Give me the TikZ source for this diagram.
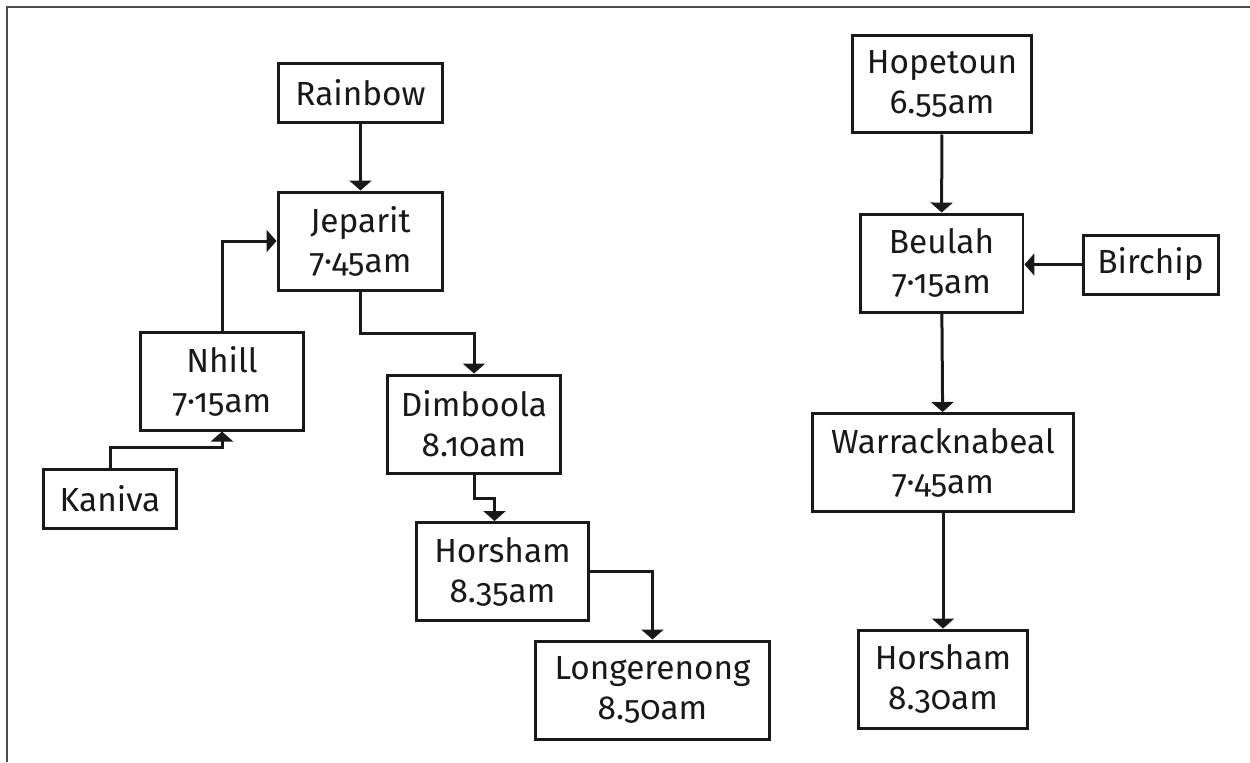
\documentclass[tikz,border=0pt]{standalone}
\usepackage{fontspec}
\setmainfont[Numbers=OldStyle]{Fira Sans}
\usetikzlibrary{arrows.meta}

\begin{document}
\begin{tikzpicture}[x=0.02cm,y=-0.02cm,>={Triangle[width=0.44cm,length=0.2cm]}]
		\tikzstyle{town}=[draw=black!90,line width=0.06cm,align=center,inner sep=0pt,
			font=\fontsize{19}{22.8}\selectfont,text=black!90]
		\tikzstyle{one}=[town,minimum height=1.18cm]
		\tikzstyle{two}=[town,minimum height=1.96cm]
		\tikzstyle{link}=[draw=black!90,line width=0.06cm,->]

		\useasboundingbox (0,0) rectangle (1250,762);
		\draw[black!70,line width=0.04cm] (7,762) -- (7,7) -- (1250,7);

		% western route
		 \node [one,minimum width=3.3cm] (rainbow) at (360.5,92.5) {Rainbow};
		 \node [two,minimum width=3.3cm] (jeparit) at (360.5,241) {Jeparit\\7·45am};
		 \node [two,minimum width=3.28cm] (nhill) at (222,381) {Nhill\\7·15am};
		 \node [one,minimum width=2.68cm] (kaniva) at (110,498.5) {Kaniva};
		 \node [two,minimum width=3.48cm] (dimboola) at (474,424) {Dimboola\\8.10am};
		 \node [two,minimum width=3.46cm] (horsham) at (502.5,571.5) {Horsham\\8.35am};
		 \node [two,minimum width=4.7cm] (longerenong) at (652.5,690) {Longerenong\\8.50am};

		% eastern route
		 \node [two,minimum width=3.6cm] (hopetoun) at (942,84) {Hopetoun\\6.55am};
		 \node [two,minimum width=3.26cm] (beulah) at (941.5,263) {Beulah\\7·15am};
		 \node [one,minimum width=2.7cm] (birchip) at (1150.5,264.5) {Birchip};
		 \node [two,minimum width=5.24cm] (warracknabeal) at (943,462.5) {Warracknabeal\\7·45am};
		 \node [two,minimum width=3.4cm] (horshamb) at (943,679) {Horsham\\8.30am};

		 \path[link] (rainbow) -- (jeparit);
		 \path[link] (nhill.north) |- (jeparit.west);
		 \path[link] (kaniva.north) -- ++(0,-20) -| (nhill.south);
		 \path[link] (jeparit.south) -- ++(0,42) -| (dimboola.north);
		 \path[link] (dimboola.south) -- ++(0,24) -| ([xshift=-0.16cm]horsham.north);
		 \path[link] (horsham.east) -| (longerenong.north);

		 \path[link] (hopetoun) -- (beulah);
		 \path[link] (birchip.west) -- (birchip.west -| beulah.east);
		 \path[link] (beulah) -- (warracknabeal);
		 \path[link] (warracknabeal) -- (horshamb);

	\end{tikzpicture}
\end{document}
